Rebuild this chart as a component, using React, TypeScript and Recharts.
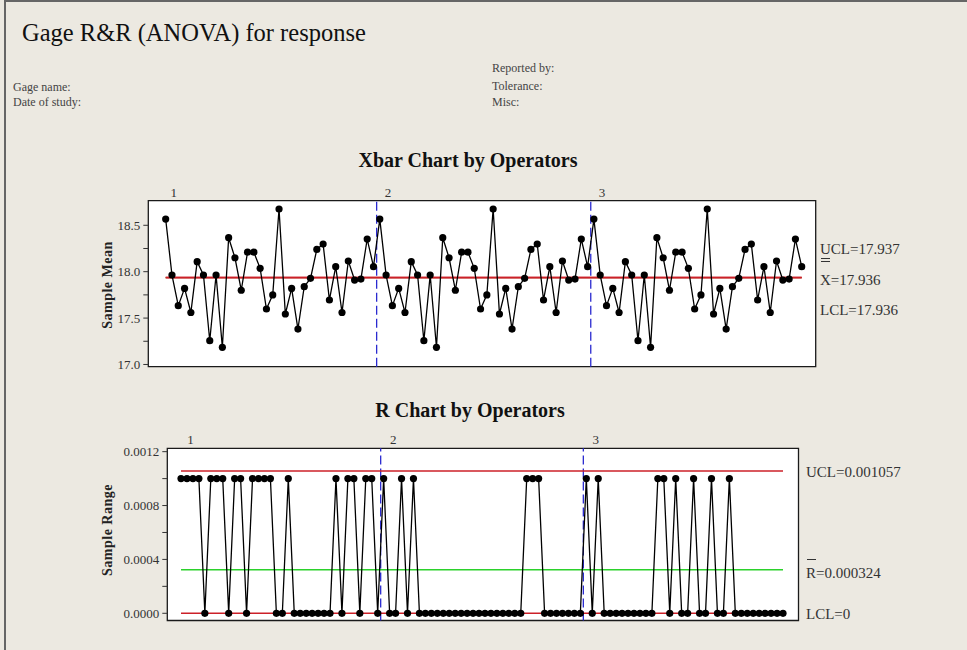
import React from 'react';
import { LineChart, Line, XAxis, YAxis, ReferenceLine, ReferenceArea } from 'recharts';

const FONT = '"Liberation Serif", "Times New Roman", serif';

// ---- data ----
const operators = ['1', '2', '3'];

const xbarOperator1 = [18.567, 17.964, 17.634, 17.82, 17.56, 18.108, 17.964, 17.256, 17.964, 17.185, 18.366, 18.15, 17.8, 18.21, 18.21, 18.036, 17.598, 17.75, 18.675, 17.544, 17.82, 17.382, 17.838, 17.928, 18.24, 18.298, 17.695, 18.054, 17.56, 18.115, 17.91, 17.92, 18.352, 18.054];
const xbarOperator2 = [18.567, 17.964, 17.634, 17.82, 17.56, 18.108, 17.964, 17.256, 17.964, 17.185, 18.366, 18.15, 17.8, 18.21, 18.21, 18.036, 17.598, 17.75, 18.675, 17.544, 17.82, 17.382, 17.838, 17.928, 18.24, 18.298, 17.695, 18.054, 17.56, 18.115, 17.91, 17.92, 18.352, 18.054];
const xbarOperator3 = [18.567, 17.964, 17.634, 17.82, 17.56, 18.108, 17.964, 17.256, 17.964, 17.185, 18.366, 18.15, 17.8, 18.21, 18.21, 18.036, 17.598, 17.75, 18.675, 17.544, 17.82, 17.382, 17.838, 17.928, 18.24, 18.298, 17.695, 18.054, 17.56, 18.115, 17.91, 17.92, 18.352, 18.054];

const rangeOperator1 = [0.001, 0.001, 0.001, 0.001, 0, 0.001, 0.001, 0.001, 0, 0.001, 0.001, 0, 0.001, 0.001, 0.001, 0.001, 0, 0, 0.001, 0, 0, 0, 0, 0, 0, 0, 0.001, 0, 0.001, 0.001, 0, 0.001, 0.001, 0];
const rangeOperator2 = [0.001, 0, 0, 0.001, 0, 0.001, 0, 0, 0, 0, 0, 0, 0, 0, 0, 0, 0, 0, 0, 0, 0, 0, 0, 0, 0.001, 0.001, 0.001, 0, 0, 0, 0, 0, 0, 0];
const rangeOperator3 = [0.001, 0, 0.001, 0, 0, 0, 0, 0, 0, 0, 0, 0, 0.001, 0.001, 0, 0.001, 0, 0, 0.001, 0, 0, 0.001, 0, 0, 0.001, 0, 0, 0, 0, 0, 0, 0, 0, 0];

const xbarUCL = 17.937;
const xbarCenter = 17.936;
const xbarLCL = 17.936;
const rangeUCL = 0.001057;
const rangeCenter = 0.000324;
const rangeLCL = 0;

const xbarTicks = [17, 17.25, 17.5, 17.75, 18, 18.25, 18.5];
const rangeTicks = [0, 0.0002, 0.0004, 0.0006, 0.0008, 0.001, 0.0012];

// ---- derived tables ----
const xbarSeries = [xbarOperator1, xbarOperator2, xbarOperator3];
const rangeSeries = [rangeOperator1, rangeOperator2, rangeOperator3];
const partsPerOperator = xbarOperator1.length;
const total = partsPerOperator * operators.length;

const toData = (series: number[][]) =>
  series.flatMap((arr, o) => arr.map((v, j) => ({ idx: o * partsPerOperator + j + 1, value: v })));

const xbarData = toData(xbarSeries);
const rangeData = toData(rangeSeries);
const boundaries = operators.slice(1).map((_, k) => (k + 1) * partsPerOperator + 0.5);

const xbarXDomain: [number, number] = [-1.76, 104.22];
const xbarYDomain: [number, number] = [16.976, 18.765];
const rangeXDomain: [number, number] = [-1.3, 104.6];
const rangeYDomain: [number, number] = [-0.0000535, 0.001225];

const opTicksX = operators.map((_, k) => k * partsPerOperator + 2.3);
const opTicksR = operators.map((_, k) => k * partsPerOperator + 2.6);

const tickStyle = { fill: '#333', fontSize: 13, fontFamily: FONT };

const abs = (left: number, top: number, extra: React.CSSProperties = {}): React.CSSProperties => ({
  position: 'absolute',
  left,
  top,
  whiteSpace: 'nowrap',
  lineHeight: 1,
  ...extra,
});

function OperatorTick(props: any) {
  const { x, y, payload, labels } = props;
  const k = labels.indexOf(payload.value);
  return (
    <text x={x} y={y} textAnchor="middle" fill="#333" fontSize={13} fontFamily={FONT}>
      {operators[k]}
    </text>
  );
}

export default function App() {
  return (
    <div
      style={{
        position: 'absolute',
        left: 0,
        top: 0,
        width: 967,
        height: 650,
        background: '#ECE9E1',
        overflow: 'hidden',
        fontFamily: FONT,
        color: '#222',
      }}
    >
      <div style={{ position: 'absolute', left: 4, top: 0, width: 1.5, height: 650, background: '#666' }} />
      <div style={{ position: 'absolute', left: 4, top: 0, width: 963, height: 1.5, background: '#666' }} />

      <div style={abs(22, 21, { fontSize: 24.5, color: '#111' })}>Gage R&amp;R (ANOVA) for response</div>
      <div style={abs(492, 62, { fontSize: 12, color: '#444' })}>Reported by:</div>
      <div style={abs(13, 81, { fontSize: 12, color: '#444' })}>Gage name:</div>
      <div style={abs(492, 80, { fontSize: 12, color: '#444' })}>Tolerance:</div>
      <div style={abs(13, 96, { fontSize: 12, color: '#444' })}>Date of study:</div>
      <div style={abs(492, 96, { fontSize: 12, color: '#444' })}>Misc:</div>

      <div style={abs(468, 160, { fontSize: 20, fontWeight: 'bold', color: '#111', transform: 'translate(-50%,-50%)' })}>
        Xbar Chart by Operators
      </div>
      <div style={abs(470, 410, { fontSize: 20, fontWeight: 'bold', color: '#111', transform: 'translate(-50%,-50%)' })}>
        R Chart by Operators
      </div>

      <div style={abs(108, 285, { fontSize: 14, fontWeight: 'bold', letterSpacing: 0.5, color: '#222', transform: 'translate(-50%,-50%) rotate(-90deg)' })}>
        Sample Mean
      </div>
      <div style={abs(108, 530, { fontSize: 14, fontWeight: 'bold', letterSpacing: 0.5, color: '#222', transform: 'translate(-50%,-50%) rotate(-90deg)' })}>
        Sample Range
      </div>

      {/* Xbar chart */}
      <div style={{ position: 'absolute', left: 0, top: 0 }}>
        <LineChart
          width={967}
          height={380}
          data={xbarData}
          margin={{ top: 180.7, right: 151.3, bottom: 13.3, left: 88.3 }}
        >
          <XAxis dataKey="idx" type="number" domain={xbarXDomain} allowDataOverflow hide />
          <XAxis
            xAxisId="top"
            dataKey="idx"
            orientation="top"
            type="number"
            domain={xbarXDomain}
            allowDataOverflow
            ticks={opTicksX}
            height={20}
            axisLine={false}
            tickLine={false}
            tickSize={2}
            tickMargin={2}
            tick={<OperatorTick labels={opTicksX} />}
          />
          <YAxis
            type="number"
            domain={xbarYDomain}
            allowDataOverflow
            ticks={xbarTicks}
            width={60}
            axisLine={false}
            tickSize={5}
            tickMargin={3}
            tickLine={{ stroke: '#333' }}
            tick={tickStyle}
            tickFormatter={(v: number) => (Math.round(v * 100) % 50 === 0 ? v.toFixed(1) : '')}
          />
          <ReferenceArea
            x1={xbarXDomain[0]}
            x2={xbarXDomain[1]}
            y1={xbarYDomain[0]}
            y2={xbarYDomain[1]}
            fill="#ffffff"
            fillOpacity={1}
            stroke="#1a1a1a"
            strokeWidth={1.3}
            ifOverflow="visible"
          />
          {boundaries.map((b) => (
            <ReferenceLine key={b} x={b} stroke="#2a2ad0" strokeWidth={1.3} strokeDasharray="9 4" />
          ))}
          <ReferenceLine segment={[{ x: 1, y: xbarCenter }, { x: total, y: xbarCenter }]} stroke="#2bd12b" strokeWidth={1} />
          <ReferenceLine segment={[{ x: 1, y: xbarLCL }, { x: total, y: xbarLCL }]} stroke="#cc2028" strokeWidth={1.6} />
          <ReferenceLine segment={[{ x: 1, y: xbarUCL }, { x: total, y: xbarUCL }]} stroke="#cc2028" strokeWidth={1.6} />
          <Line
            dataKey="value"
            stroke="#000"
            strokeWidth={1.3}
            isAnimationActive={false}
            dot={{ r: 3.6, fill: '#000', stroke: '#000', strokeWidth: 0 }}
          />
        </LineChart>
      </div>

      <div style={abs(820, 242, { fontSize: 15, color: '#333' })}>UCL={xbarUCL.toFixed(3)}</div>
      <div style={{ position: 'absolute', left: 821, top: 258, width: 9, height: 1, background: '#333' }} />
      <div style={{ position: 'absolute', left: 821, top: 261, width: 9, height: 1, background: '#333' }} />
      <div style={abs(820, 273, { fontSize: 15, color: '#333' })}>X={xbarCenter.toFixed(3)}</div>
      <div style={abs(820, 303, { fontSize: 15, color: '#333' })}>LCL={xbarLCL.toFixed(3)}</div>

      {/* R chart */}
      <div style={{ position: 'absolute', left: 0, top: 380 }}>
        <LineChart
          width={967}
          height={270}
          data={rangeData}
          margin={{ top: 48.3, right: 168.5, bottom: 29.5, left: 97.3 }}
        >
          <XAxis dataKey="idx" type="number" domain={rangeXDomain} allowDataOverflow hide />
          <XAxis
            xAxisId="top"
            dataKey="idx"
            orientation="top"
            type="number"
            domain={rangeXDomain}
            allowDataOverflow
            ticks={opTicksR}
            height={20}
            axisLine={false}
            tickLine={false}
            tickSize={2}
            tickMargin={2}
            tick={<OperatorTick labels={opTicksR} />}
          />
          <YAxis
            type="number"
            domain={rangeYDomain}
            allowDataOverflow
            ticks={rangeTicks}
            width={70}
            axisLine={false}
            tickSize={5}
            tickMargin={3}
            tickLine={{ stroke: '#333' }}
            tick={tickStyle}
            tickFormatter={(v: number) => (Math.round(v * 10000) % 4 === 0 ? v.toFixed(4) : '')}
          />
          <ReferenceArea
            x1={rangeXDomain[0]}
            x2={rangeXDomain[1]}
            y1={rangeYDomain[0]}
            y2={rangeYDomain[1]}
            fill="#ffffff"
            fillOpacity={1}
            stroke="#1a1a1a"
            strokeWidth={1.3}
            ifOverflow="visible"
          />
          {boundaries.map((b) => (
            <ReferenceLine key={b} x={b} stroke="#2a2ad0" strokeWidth={1.3} strokeDasharray="9 4" />
          ))}
          <ReferenceLine segment={[{ x: 1, y: rangeCenter }, { x: total, y: rangeCenter }]} stroke="#2bd12b" strokeWidth={1.5} />
          <ReferenceLine segment={[{ x: 1, y: rangeLCL }, { x: total, y: rangeLCL }]} stroke="#cc2028" strokeWidth={1.5} />
          <ReferenceLine segment={[{ x: 1, y: rangeUCL }, { x: total, y: rangeUCL }]} stroke="#cc2028" strokeWidth={1.5} />
          <Line
            dataKey="value"
            stroke="#000"
            strokeWidth={1.3}
            isAnimationActive={false}
            dot={{ r: 3.6, fill: '#000', stroke: '#000', strokeWidth: 0 }}
          />
        </LineChart>
      </div>

      <div style={abs(806, 465, { fontSize: 15, color: '#333' })}>UCL={rangeUCL.toFixed(6)}</div>
      <div style={{ position: 'absolute', left: 807, top: 559, width: 9, height: 1, background: '#333' }} />
      <div style={abs(806, 566, { fontSize: 15, color: '#333' })}>R={rangeCenter.toFixed(6)}</div>
      <div style={abs(806, 607, { fontSize: 15, color: '#333' })}>LCL={rangeLCL}</div>
    </div>
  );
}
